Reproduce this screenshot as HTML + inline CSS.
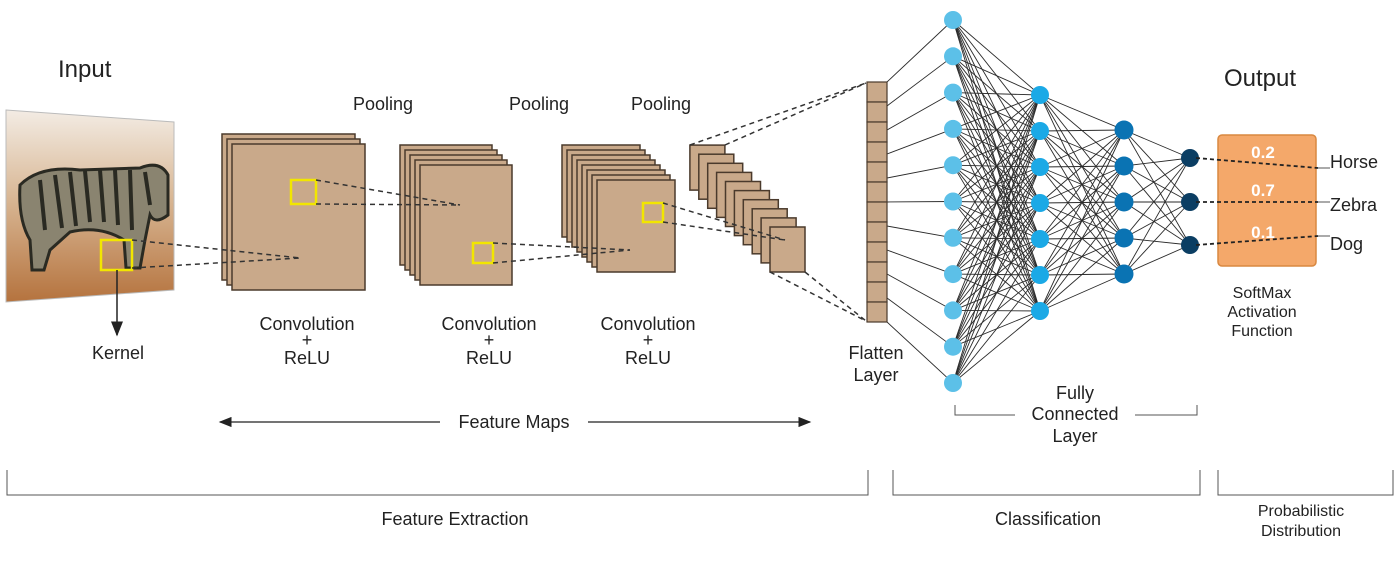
<!DOCTYPE html>
<html><head><meta charset="utf-8"><style>
body{margin:0;background:#fff;width:1400px;height:561px;overflow:hidden}
svg text{font-family:"Liberation Sans",sans-serif;fill:#222}
</style></head><body>
<svg id="s" width="1400" height="561" viewBox="0 0 1400 561" xmlns="http://www.w3.org/2000/svg">
<defs>
<linearGradient id="bg" x1="0" y1="0" x2="0" y2="1">
<stop offset="0" stop-color="#f3ece4"/><stop offset="0.45" stop-color="#d9b896"/><stop offset="1" stop-color="#b5733e"/>
</linearGradient>
<marker id="ar" markerWidth="10" markerHeight="8" refX="9" refY="4" orient="auto"><path d="M0,0 L10,4 L0,8 z" fill="#222"/></marker>
<marker id="al" markerWidth="10" markerHeight="8" refX="1" refY="4" orient="auto"><path d="M10,0 L0,4 L10,8 z" fill="#222"/></marker>
</defs>
<g id="net" stroke="#2a2a2a" stroke-width="0.9"></g>
<!-- input image -->
<polygon points="6,110 174,122 174,290 6,302" fill="url(#bg)" stroke="#bbb"/>
<g fill="#8a8470" stroke="#2a2a22" stroke-width="3">
<path d="M20,185 Q40,165 80,170 L140,168 Q160,160 168,175 L168,215 Q155,225 150,215 L145,240 L140,268 L126,268 L124,240 Q100,225 70,232 L50,250 L44,270 L32,270 L30,240 Q18,220 20,185z"/>
</g>
<g stroke="#2a2a22" stroke-width="4" fill="none">
<path d="M40,180 L45,230 M55,175 L62,228 M70,172 L76,226 M85,171 L90,222 M100,170 L104,222 M115,170 L118,225 M130,170 L132,230 M145,172 L150,205"/>
</g>
<rect x="101" y="240" width="31" height="30" fill="none" stroke="#f2e600" stroke-width="2.5"/>
<line x1="117" y1="270" x2="117" y2="335" stroke="#222" stroke-width="1.5" marker-end="url(#ar)"/>
<g id="stacks" fill="#c9a98a" stroke="#4a3a2c" stroke-width="1.5"></g>
<g stroke="#333" stroke-width="1.5" stroke-dasharray="5,4" fill="none">
<line x1="132" y1="240" x2="300" y2="258"/><line x1="132" y1="268" x2="300" y2="258"/>
<line x1="316" y1="180" x2="460" y2="205"/><line x1="316" y1="204" x2="460" y2="205"/>
<line x1="493" y1="243" x2="630" y2="250"/><line x1="493" y1="263" x2="630" y2="250"/>
<line x1="663" y1="203" x2="785" y2="240"/><line x1="663" y1="222" x2="785" y2="240"/>
<line x1="690" y1="145" x2="866" y2="83"/><line x1="725" y1="145" x2="866" y2="83"/>
<line x1="770" y1="272" x2="866" y2="321"/><line x1="805" y1="272" x2="866" y2="321"/>
</g>
<g id="flat" fill="#c9a98a" stroke="#4a3a2c" stroke-width="1.2"></g>
<g id="nodes"></g>
<!-- softmax box -->
<rect x="1218" y="135" width="98" height="131" rx="4" fill="#f4a86a" stroke="#d98840" stroke-width="1.5"/>
<g stroke="#222" stroke-width="1.8" stroke-dasharray="4,3">
<line x1="1196" y1="158" x2="1318" y2="168"/><line x1="1196" y1="202" x2="1318" y2="202"/><line x1="1196" y1="245" x2="1318" y2="236"/>
</g>
<g stroke="#555" stroke-width="1"><line x1="1318" y1="168" x2="1330" y2="168"/><line x1="1318" y1="202" x2="1330" y2="202"/><line x1="1318" y1="236" x2="1330" y2="236"/></g>
<g font-size="17" font-weight="bold" text-anchor="middle">
<text x="1263" y="158" style="fill:#fff">0.2</text><text x="1263" y="196" style="fill:#fff">0.7</text><text x="1263" y="238" style="fill:#fff">0.1</text></g>
<g font-size="18"><text x="1330" y="168">Horse</text><text x="1330" y="211">Zebra</text><text x="1330" y="250">Dog</text></g>
<g font-size="16" text-anchor="middle"><text x="1262" y="298">SoftMax</text><text x="1262" y="317">Activation</text><text x="1262" y="336">Function</text></g>
<text x="58" y="77" font-size="24">Input</text>
<text x="1224" y="86" font-size="24">Output</text>
<g font-size="18" text-anchor="middle"><text x="383" y="110">Pooling</text><text x="539" y="110">Pooling</text><text x="661" y="110">Pooling</text>
<text x="118" y="359">Kernel</text>
<text x="307" y="330">Convolution</text><text x="307" y="346">+</text><text x="307" y="364">ReLU</text>
<text x="489" y="330">Convolution</text><text x="489" y="346">+</text><text x="489" y="364">ReLU</text>
<text x="648" y="330">Convolution</text><text x="648" y="346">+</text><text x="648" y="364">ReLU</text>
<text x="876" y="359">Flatten</text><text x="876" y="381">Layer</text>
<text x="1075" y="399">Fully</text><text x="1075" y="420">Connected</text><text x="1075" y="442">Layer</text>
<text x="514" y="428">Feature  Maps</text>
<text x="455" y="525">Feature Extraction</text><text x="1048" y="525">Classification</text>
</g>
<g font-size="16" text-anchor="middle"><text x="1301" y="516">Probabilistic</text><text x="1301" y="536">Distribution</text></g>
<g stroke="#555" stroke-width="1" fill="none">
<path d="M955,405 V415 H1015 M1135,415 H1197 V405"/>
<path d="M7,470 V495 H868 V470 M893,470 V495 H1200 V470 M1218,470 V495 H1393 V470"/>
</g>
<line x1="220" y1="422" x2="440" y2="422" stroke="#222" stroke-width="1.3" marker-start="url(#al)"/>
<line x1="588" y1="422" x2="810" y2="422" stroke="#222" stroke-width="1.3" marker-end="url(#ar)"/>
</svg>
<script>
var NS="http://www.w3.org/2000/svg";
function el(p,t,a){var e=document.createElementNS(NS,t);for(var k in a)e.setAttribute(k,a[k]);document.getElementById(p).appendChild(e);return e;}
function stackF(fx,fy,w,h,n,dx,dy){for(var i=n-1;i>=0;i--)el("stacks","rect",{x:fx-i*dx,y:fy-i*dy,width:w,height:h});}
stackF(232,144,133,146,3,5,5);
stackF(420,165,92,120,5,5,5);
stackF(597,180,78,92,8,5,5);
stackF(770,227,35,45,10,8.9,9.1);
[[291,180,25,24],[473,243,20,20],[643,203,20,19]].forEach(function(b){el("stacks","rect",{x:b[0],y:b[1],width:b[2],height:b[3],fill:"none",stroke:"#f2e600","stroke-width":2.5});});
for(var i=0;i<12;i++)el("flat","rect",{x:867,y:82+i*20,width:20,height:20});
var L1=[],L2=[],L3=[],L4=[];
for(i=0;i<11;i++)L1.push([953,20+i*36.3]);
for(i=0;i<7;i++)L2.push([1040,95+i*36]);
for(i=0;i<5;i++)L3.push([1124,130+i*36]);
[158,202,245].forEach(function(y){L4.push([1190,y]);});
for(i=0;i<11;i++){var fy=82+i*24;el("net","line",{x1:887,y1:fy,x2:L1[i][0],y2:L1[i][1]});}
function full(A,B){A.forEach(function(a){B.forEach(function(b){el("net","line",{x1:a[0],y1:a[1],x2:b[0],y2:b[1]});});});}
full(L1,L2);full(L2,L3);full(L3,L4);
function nodes(L,c,r){L.forEach(function(p){el("nodes","circle",{cx:p[0],cy:p[1],r:r,fill:c});});}
nodes(L1,"#5cc0e8",9);nodes(L2,"#1ba9e6",9);nodes(L3,"#0a73b3",9.5);nodes(L4,"#0b3e63",9);
</script>
</body></html>
